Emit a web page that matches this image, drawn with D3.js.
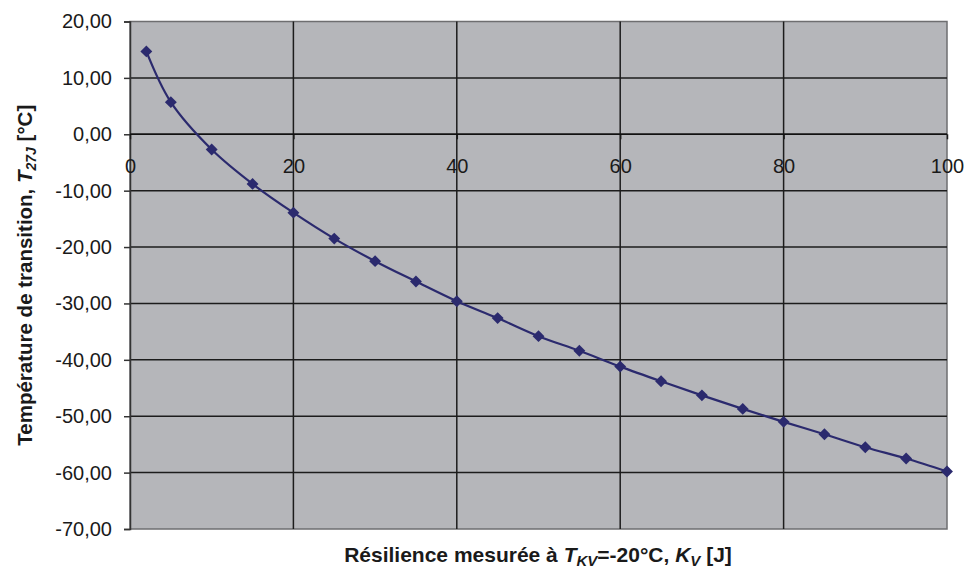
<!DOCTYPE html>
<html>
<head>
<meta charset="utf-8">
<script src="https://cdn.jsdelivr.net/npm/d3@7"></script>
<style>
  body { margin: 0; background: #fff; }
  text { font-family: "Liberation Sans", Arial, sans-serif; }
</style>
</head>
<body>
<script>
// data
var resilience = [2, 5, 10, 15, 20, 25, 30, 35, 40, 45, 50, 55, 60, 65, 70, 75, 80, 85, 90, 95, 100];
var temperature = [14.7, 5.7, -2.7, -8.8, -13.9, -18.5, -22.5, -26.1, -29.6, -32.6, -35.8, -38.4,
                   -41.2, -43.8, -46.3, -48.7, -51.0, -53.2, -55.5, -57.5, -59.8];
var xTicks = [0, 20, 40, 60, 80, 100];
var yTicks = [20, 10, 0, -10, -20, -30, -40, -50, -60, -70];

var width = 967,
    height = 575,
    margin = {top: 21.5, right: 20, bottom: 46, left: 130};

var points = resilience.map(function(d, i) { return {x: d, y: temperature[i]}; });

var fr = d3.formatLocale({decimal: ",", thousands: " ", grouping: [3], currency: ["", ""], minus: "-"});
var fmt = fr.format(".2f");

var svg = d3.select("body")
  .append("svg")
  .attr("width", width)
  .attr("height", height);

var x = d3.scaleLinear()
  .domain([0, 100])
  .range([margin.left, width - margin.right]);

var y = d3.scaleLinear()
  .domain([-70, 20])
  .range([height - margin.bottom, margin.top]);

// plot background
svg.append("rect")
  .attr("x", x(0))
  .attr("y", y(20))
  .attr("width", x(100) - x(0))
  .attr("height", y(-70) - y(20))
  .attr("fill", "#b5b6ba")
  .attr("stroke", "#6e6e70")
  .attr("stroke-width", 1.5);

// gridlines
svg.append("g")
    .attr("class", "grid-y")
  .selectAll("line")
  .data(yTicks.filter(function(d) { return d > -70 && d < 20; }))
  .enter().append("line")
    .attr("x1", x(0))
    .attr("x2", x(100))
    .attr("y1", function(d) { return y(d); })
    .attr("y2", function(d) { return y(d); })
    .attr("stroke", "#1c1c1c")
    .attr("stroke-width", 1.5);

svg.append("g")
    .attr("class", "grid-x")
  .selectAll("line")
  .data(xTicks.filter(function(d) { return d > 0 && d < 100; }))
  .enter().append("line")
    .attr("x1", function(d) { return x(d); })
    .attr("x2", function(d) { return x(d); })
    .attr("y1", y(20))
    .attr("y2", y(-70))
    .attr("stroke", "#1c1c1c")
    .attr("stroke-width", 1.5);

// y axis
var yAxis = svg.append("g")
  .attr("transform", "translate(" + x(0) + ",0)")
  .call(d3.axisLeft(y).tickValues(yTicks).tickFormat(fmt).tickSize(6).tickPadding(12));

yAxis.select(".domain").attr("stroke", "#333").attr("stroke-width", 1.5);
yAxis.selectAll(".tick line").attr("stroke", "#333").attr("stroke-width", 1.5);
yAxis.selectAll("text")
  .attr("font-size", 20)
  .attr("fill", "#1a1a1a")
  .attr("font-family", "Liberation Sans, Arial, sans-serif");

// x axis crossing at 0
var xAxis = svg.append("g")
  .attr("transform", "translate(0," + y(0) + ")")
  .call(d3.axisBottom(x).tickValues(xTicks).tickFormat(d3.format("d")).tickSize(5).tickPadding(20));

xAxis.select(".domain").remove();
xAxis.selectAll(".tick line").attr("stroke", "#1c1c1c").attr("stroke-width", 1.5);
xAxis.selectAll("text")
  .attr("font-size", 20)
  .attr("fill", "#1a1a1a")
  .attr("font-family", "Liberation Sans, Arial, sans-serif");

// x axis line along 0
svg.append("line")
  .attr("x1", x(0))
  .attr("x2", x(100))
  .attr("y1", y(0))
  .attr("y2", y(0))
  .attr("stroke", "#111")
  .attr("stroke-width", 1.5);

// smoothed curve
var line = d3.line()
  .x(function(d) { return x(d.x); })
  .y(function(d) { return y(d.y); })
  .curve(d3.curveCatmullRom);

svg.append("path")
  .datum(points)
  .attr("fill", "none")
  .attr("stroke", "#2b2a6e")
  .attr("stroke-width", 2.2)
  .attr("d", line);

// diamond markers
svg.append("g")
  .selectAll("path")
  .data(points)
  .enter().append("path")
    .attr("transform", function(d) { return "translate(" + x(d.x) + "," + y(d.y) + ")"; })
    .attr("d", d3.symbol().type(d3.symbolDiamond2).size(90))
    .attr("fill", "#2b2a6e");

// axis titles
var xt = svg.append("text")
  .attr("x", 538)
  .attr("y", 562)
  .attr("text-anchor", "middle")
  .attr("font-size", 21)
  .attr("font-weight", "bold")
  .attr("fill", "#1a1a1a");
xt.append("tspan").text("Résilience mesurée à ");
xt.append("tspan").attr("font-style", "italic").text("T");
xt.append("tspan").attr("font-style", "italic").attr("font-size", 15).attr("dy", 4).text("KV");
xt.append("tspan").attr("dy", -4).text("=-20°C, ");
xt.append("tspan").attr("font-style", "italic").text("K");
xt.append("tspan").attr("font-style", "italic").attr("font-size", 15).attr("dy", 4).text("V");
xt.append("tspan").attr("dy", -4).text(" [J]");

var yt = svg.append("text")
  .attr("transform", "translate(32," + (y(20) + y(-70)) / 2 + ") rotate(-90)")
  .attr("text-anchor", "middle")
  .attr("font-size", 20.5)
  .attr("font-weight", "bold")
  .attr("fill", "#1a1a1a");
yt.append("tspan").text("Température de transition, ");
yt.append("tspan").attr("font-style", "italic").text("T");
yt.append("tspan").attr("font-style", "italic").attr("font-size", 14).attr("dy", 4).text("27J");
yt.append("tspan").attr("dy", -4).text(" [°C]");
</script>
</body>
</html>
